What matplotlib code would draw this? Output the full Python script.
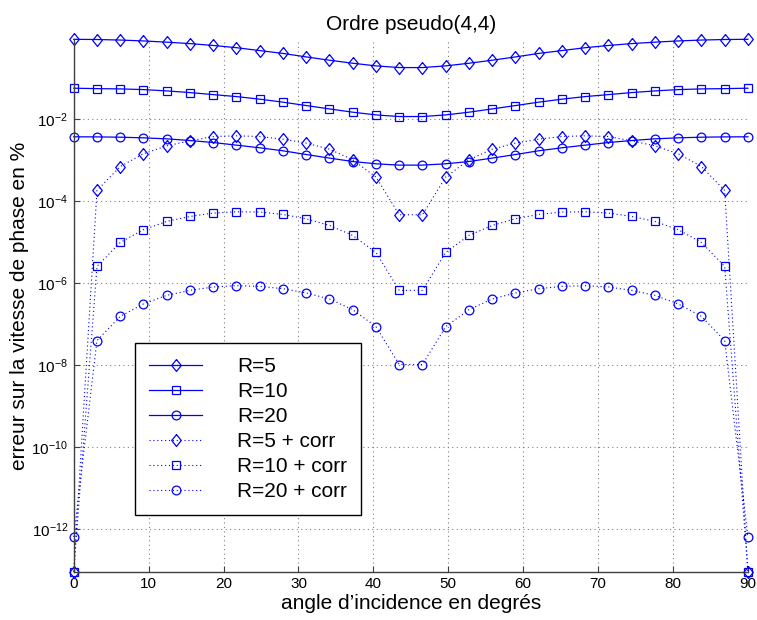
import numpy as np
import matplotlib
matplotlib.use('Agg')
import matplotlib.pyplot as plt
from matplotlib.ticker import FixedLocator, NullLocator, LogFormatterSciNotation

plt.rcParams['font.family'] = ['Liberation Sans', 'DejaVu Sans']
plt.rcParams['mathtext.fontset'] = 'custom'
plt.rcParams['mathtext.rm'] = 'Liberation Sans'
plt.rcParams['mathtext.it'] = 'Liberation Sans'
plt.rcParams['mathtext.default'] = 'regular'

# 30 angles from 0 to 90 degrees
angles = np.linspace(0, 90, 30)

r5 = [0.891, 0.881, 0.855, 0.813, 0.759, 0.700, 0.631, 0.556, 0.473, 0.403,
      0.331, 0.275, 0.232, 0.200, 0.182, 0.182, 0.200, 0.232, 0.275, 0.331,
      0.403, 0.473, 0.556, 0.631, 0.700, 0.759, 0.813, 0.855, 0.881, 0.891]
r10 = [0.0570, 0.0557, 0.0548, 0.0527, 0.0490, 0.0446, 0.0398, 0.0356, 0.0308, 0.0260,
       0.0215, 0.0178, 0.0148, 0.0127, 0.0116, 0.0116, 0.0127, 0.0148, 0.0178, 0.0215,
       0.0260, 0.0308, 0.0356, 0.0398, 0.0446, 0.0490, 0.0527, 0.0548, 0.0557, 0.0570]
r20 = [3.71e-3, 3.69e-3, 3.63e-3, 3.50e-3, 3.31e-3, 3.01e-3, 2.69e-3, 2.32e-3, 2.00e-3, 1.69e-3,
       1.37e-3, 1.12e-3, 9.25e-4, 8.13e-4, 7.55e-4, 7.55e-4, 8.13e-4, 9.25e-4, 1.12e-3, 1.37e-3,
       1.69e-3, 2.00e-3, 2.32e-3, 2.69e-3, 3.01e-3, 3.31e-3, 3.50e-3, 3.63e-3, 3.69e-3, 3.71e-3]
r5_corr = [8.9e-14, 1.82e-4, 6.98e-4, 1.43e-3, 2.23e-3, 2.96e-3, 3.77e-3, 3.92e-3, 3.77e-3, 3.25e-3,
           2.60e-3, 1.85e-3, 1.02e-3, 3.85e-4, 4.63e-5, 4.63e-5, 3.85e-4, 1.02e-3, 1.85e-3, 2.60e-3,
           3.25e-3, 3.77e-3, 3.92e-3, 3.77e-3, 2.96e-3, 2.23e-3, 1.43e-3, 6.98e-4, 1.82e-4, 8.9e-14]
r10_corr = [8.9e-14, 2.54e-6, 9.77e-6, 2.00e-5, 3.18e-5, 4.21e-5, 5.09e-5, 5.48e-5, 5.40e-5, 4.71e-5,
            3.70e-5, 2.54e-5, 1.45e-5, 5.57e-6, 6.61e-7, 6.61e-7, 5.57e-6, 1.45e-5, 2.54e-5, 3.70e-5,
            4.71e-5, 5.40e-5, 5.48e-5, 5.09e-5, 4.21e-5, 3.18e-5, 2.00e-5, 9.77e-6, 2.54e-6, 8.9e-14]
r20_corr = [6.3e-13, 3.92e-8, 1.53e-7, 3.08e-7, 4.99e-7, 6.61e-7, 7.98e-7, 8.59e-7, 8.26e-7, 7.26e-7,
            5.70e-7, 4.07e-7, 2.23e-7, 8.59e-8, 1.02e-8, 1.02e-8, 8.59e-8, 2.23e-7, 4.07e-7, 5.70e-7,
            7.26e-7, 8.26e-7, 8.59e-7, 7.98e-7, 6.61e-7, 4.99e-7, 3.08e-7, 1.53e-7, 3.92e-8, 6.3e-13]

labels = ['R=5', 'R=10', 'R=20', 'R=5 + corr', 'R=10 + corr', 'R=20 + corr']
y_ticks = [1e-12, 1e-10, 1e-8, 1e-6, 1e-4, 1e-2]
x_ticks = list(range(0, 91, 10))

BLUE = '#0000ff'
diamond = [(0, 1), (0.8, 0), (0, -1), (-0.8, 0), (0, 1)]
markers = [(diamond, 8.6), ('s', 5.2), ('o', 6.3)]

fig = plt.figure(figsize=(7.57, 6.2), dpi=100)
ax = fig.add_axes([0.0974, 0.0779, 0.988 - 0.0974, 0.9366 - 0.0779])

series = [r5, r10, r20]
for vals, (mk, ms), lab in zip(series, markers, labels[:3]):
    ax.plot(angles, vals, color=BLUE, lw=0.9, marker=mk, ms=ms, mfc='none',
            mec=BLUE, mew=0.9, label=lab, clip_on=False)

series_corr = [r5_corr, r10_corr, r20_corr]
for vals, (mk, ms), lab in zip(series_corr, markers, labels[3:]):
    ax.plot(angles, vals, color=BLUE, lw=0.8, ls=(0, (1, 2.5)), marker=mk, ms=ms,
            mfc='none', mec=BLUE, mew=0.9, label=lab, clip_on=False)

ax.set_yscale('log')
ax.set_xlim(0, 90)
ax.set_ylim(10 ** -13.05, 10 ** -0.05)
ax.yaxis.set_major_locator(FixedLocator(y_ticks))
ax.yaxis.set_major_formatter(LogFormatterSciNotation())
ax.yaxis.set_minor_locator(NullLocator())
ax.set_xticks(x_ticks)

ax.grid(True, color='#808080', ls=(0, (1, 3)), lw=0.8)
ax.spines['top'].set_visible(False)
ax.spines['right'].set_visible(False)
for s in ('left', 'bottom'):
    ax.spines[s].set_color('#404040')
    ax.spines[s].set_linewidth(1.0)
ax.tick_params(direction='in', length=4, width=0.8, color='#404040',
               labelsize=11, pad=4)

ax.set_title('Ordre pseudo(4,4)', fontsize=15, pad=7)
ax.set_xlabel("angle d\u2019incidence en degr\u00e9s", fontsize=15, labelpad=2)
ax.set_ylabel('erreur sur la vitesse de phase en %', fontsize=15, labelpad=2)

leg = ax.legend(loc='upper left', bbox_to_anchor=(135 / 757, 1 - 343.3 / 620),
                bbox_transform=fig.transFigure, borderaxespad=0, fontsize=15,
                frameon=True, fancybox=False, framealpha=1, edgecolor='black',
                handlelength=2.55, handletextpad=1.68, borderpad=0.67,
                labelspacing=0.29)
leg.get_frame().set_linewidth(1.0)

fig.savefig('out.png', dpi=100)
